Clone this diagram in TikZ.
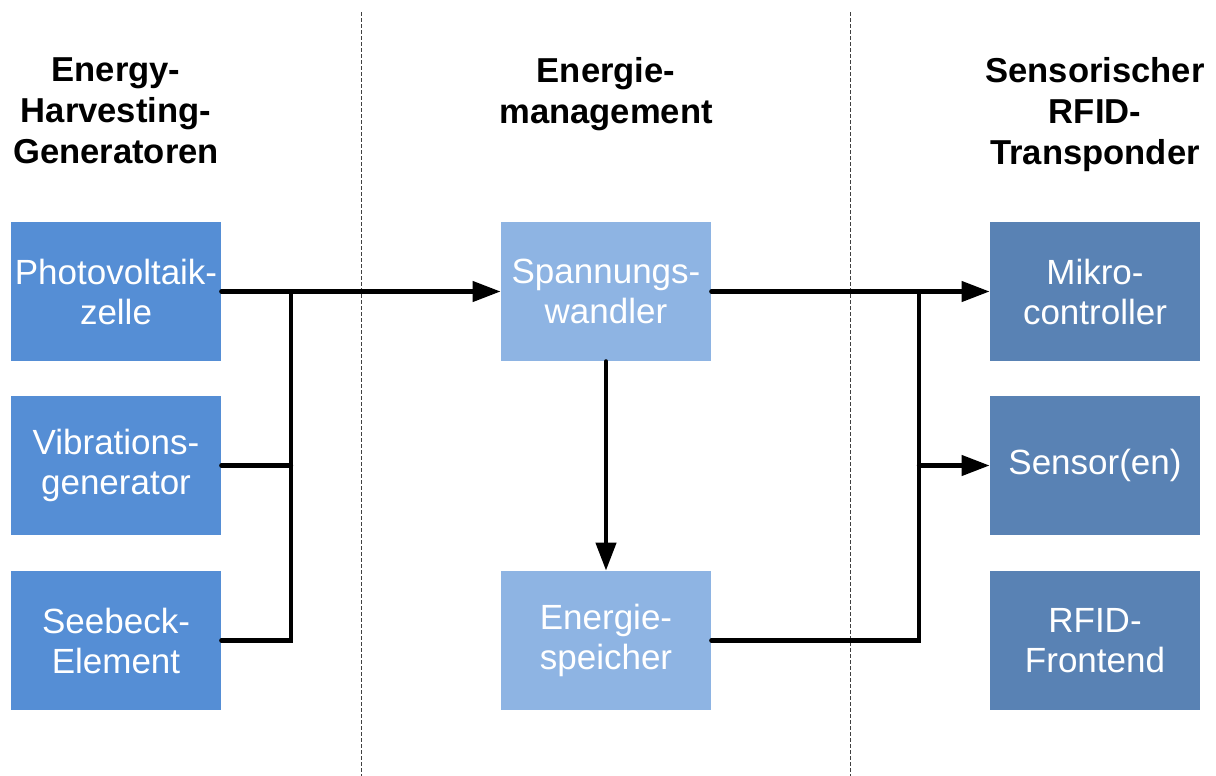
\documentclass[tikz,border=0pt]{standalone}
\usepackage{fontspec}
\setmainfont{Liberation Sans}
\usetikzlibrary{arrows.meta}
\definecolor{genblue}{RGB}{85,142,213}
\definecolor{mgmtblue}{RGB}{142,180,227}
\definecolor{tagblue}{RGB}{89,130,180}
\begin{document}
\begin{tikzpicture}[x=0.5pt,y=-0.5pt]
   \tikzstyle{block}=[minimum width=105pt,minimum height=69.5pt,inner sep=0pt,align=center,text=white,font=\fontsize{17.5}{20}\selectfont]
   \tikzstyle{title}=[anchor=north,inner sep=0pt,align=center,font=\fontsize{17.3}{20.6}\selectfont\bfseries]
   \tikzstyle{wire}=[line width=2.2pt,line cap=round]
   \tikzstyle{flow}=[wire,-{Triangle[length=14pt,width=10pt]}]
   \tikzstyle{divider}=[black!75,line width=0.5pt,dash pattern=on 2pt off 1pt]
   \useasboundingbox[fill=white] (0,0) rectangle (1216,776);
   \draw[divider] (361,12) -- (361,776);
   \draw[divider] (850,12) -- (850,776);
   \node[title] (gen) at (116,57) {Energy-\\Harvesting-\\Generatoren};
   \node[title] (mgmt) at (606,57) {Energie-\\management};
   \node[title] (tag) at (1095,57) {Sensorischer\\RFID-\\Transponder};
   \node[block,fill=genblue] (pv) at (116,291.5) {Photovoltaik-\\zelle};
   \node[block,fill=genblue] (vib) at (116,465.5) {Vibrations-\\generator};
   \node[block,fill=genblue] (seebeck) at (116,640.5) {Seebeck-\\Element};
   \node[block,fill=mgmtblue] (wandler) at (606,291.5) {Spannungs-\\wandler};
   \node[block,fill=mgmtblue] (speicher) at (606,640.5) {Energie-\\speicher};
   \node[block,fill=tagblue] (mcu) at (1095,291.5) {Mikro-\\controller};
   \node[block,fill=tagblue] (sensor) at (1095,465.5) {Sensor(en)};
   \node[block,fill=tagblue] (frontend) at (1095,640.5) {RFID-\\Frontend};
   \coordinate (busL) at (291,291.5);
   \coordinate (busR) at (919,291.5);
   \draw[flow] (pv.east) -- (wandler.west);
   \draw[wire] (busL) |- (seebeck.east);
   \draw[wire] (vib.east) -- (vib.east -| busL);
   \draw[flow] (wandler.east) -- (mcu.west);
   \draw[wire] (speicher.east) -| (busR);
   \draw[flow] (sensor.west -| busR) -- (sensor.west);
   \draw[flow] (wandler.south) -- (speicher.north);
\end{tikzpicture}
\end{document}
